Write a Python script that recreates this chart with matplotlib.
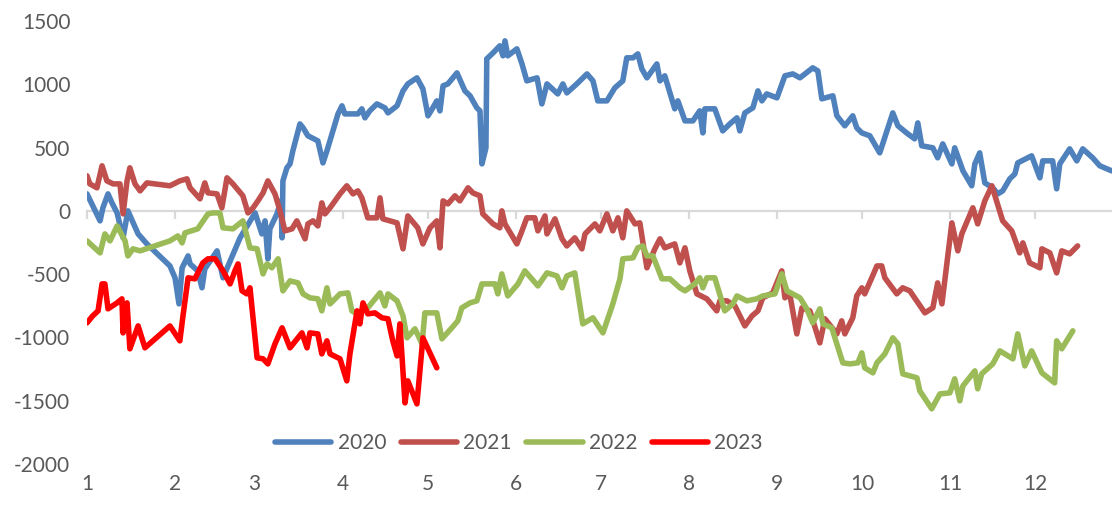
import matplotlib
matplotlib.use("Agg")
import matplotlib.pyplot as plt

# x = day of year (0 = 1 Jan), y = spread value
d2020 = [0, 4.6, 5.6, 7.4, 8.8, 10.6, 12.7, 14.4, 18, 21.1, 29.2, 31, 32.4, 33.5, 35.6, 36.3, 39, 40.5,
         41.5, 45.8, 47.9, 53.9, 59.2, 61.6, 62.7, 63.7, 64.4, 66.9, 68.3, 68.7, 69, 70.4, 71.5, 72.5,
         75, 76.1, 77.8, 81.3, 83.1, 84.5, 86.3, 88.4, 89.8, 90.8, 95.4, 96.8, 97.9, 99.6, 102.1,
         104.9, 106, 109.2, 111.3, 113, 116.2, 118.3, 120.1, 121.8, 123.2, 124.3, 125.4, 127.1,
         130.3, 133.1, 134.9, 137.3, 138.4, 139.1, 140.5, 140.8, 143, 145.4, 146.5, 147.2, 148.2,
         151.4, 153.2, 154.9, 158.5, 160.2, 162, 165.8, 167.6, 169, 172.5, 176.1, 178.2, 179.9,
         183.1, 185.9, 188.7, 190.1, 192.3, 194, 195.4, 197.2, 200.7, 201.8, 203.5, 207, 208.1,
         210.6, 213.4, 215.8, 216.9, 217.6, 221.1, 223.9, 226.4, 228.9, 229.9, 231.7, 234.5, 236.3,
         237.7, 239.4, 243, 245.8, 248.6, 251.1, 255.6, 257.4, 258.8, 262.7, 264.1, 266.9, 269.7,
         271.1, 272.9, 275.7, 279.2, 283.8, 285.6, 289.1, 291.5, 292.6, 294, 297.9, 299.6, 301.4,
         304.6, 305.6, 308.5, 311.6, 312.7, 314.4, 316.2, 319, 320.8, 322.5, 325, 326.8, 327.8,
         332.7, 335.6, 336.6, 340.1, 341.5, 342.6, 346.1, 348.6, 350.7, 354.2, 356.7, 360.9]
v2020 = [134, -79, 24, 134, 63, -16, -213, 0, -182, -261, -435, -529, -735, -450, -356, -419, -474, -608,
         -458, -316, -529, -213, -16, -182, -79, -379, -142, -24, 79, -213, 237, 340, 371, 474,
         687, 656, 593, 553, 379, 474, 608, 766, 830, 766, 766, 806, 735, 790, 845,
         814, 774, 830, 948, 1003, 1051, 964, 751, 814, 869, 790, 988, 1003,
         1090, 948, 909, 814, 790, 371, 498, 1201, 1248, 1304, 1225, 1343, 1225,
         1280, 1161, 1027, 1051, 845, 1003, 924, 1003, 932, 1003, 1082, 1027, 869,
         869, 972, 1027, 1209, 1209, 1240, 1122, 1051, 1161, 1027, 1067, 806, 869,
         711, 711, 790, 616, 806, 806, 632, 687, 735, 632, 774, 814, 948,
         869, 924, 893, 1067, 1082, 1051, 1130, 1106, 885, 909, 751, 672, 751,
         656, 616, 593, 458, 774, 672, 608, 569, 695, 514, 498, 419, 529,
         371, 498, 316, 198, 371, 458, 221, 182, 134, 158, 253, 292, 379,
         435, 261, 395, 395, 174, 371, 490, 395, 490, 419, 356, 316]

d2021 = [0, 1, 3.5, 5.3, 7, 9.2, 11.6, 12.7, 14.1, 15.1, 16.9, 18.7, 21.1, 29.2, 32.7, 35.2, 36.3,
         39.8, 41.5, 42.6, 45.8, 47.5, 49.3, 51.4, 54.9, 56.7, 58.5, 60.2, 62, 63.7, 66.2, 68, 69.7,
         72.2, 73.9, 76.8, 77.8, 79.6, 81.3, 82.7, 83.8, 85.6, 89.1, 91.5, 93.7, 95.4, 96.8, 98.9,
         102.1, 103.2, 104.2, 109.2, 111.3, 113, 116.5, 118.3, 120.8, 123.2, 124.3, 125.4, 127.1,
         129.6, 131.3, 134.2, 135.9, 138.4, 139.4, 143, 145.4, 146.1, 147.2, 151.4, 153.2, 154.9,
         157.7, 158.8, 161.3, 162, 164.8, 167.3, 169, 171.8, 174.3, 175.4, 178.9, 180.6, 183.1,
         185.2, 187, 188.7, 190.1, 193, 194.7, 197.2, 200, 201.8, 203.5, 207, 208.8, 210.6, 212.3,
         214.8, 218.3, 221.8, 222.9, 225.4, 228.2, 231.7, 234.2, 236.3, 238, 241.5, 244.7, 245.8,
         247.5, 250, 251.8, 254.6, 258.1, 259.9, 264.1, 265.8, 266.9, 269.7, 271.1, 272.9, 273.9,
         276.4, 278.2, 279.9, 281, 285.2, 287.3, 289.8, 295.1, 297.9, 299.6, 301.1, 304.6, 306.7,
         308.1, 312, 313.7, 316.2, 318.7, 322.5, 325.7, 328.5, 329.6, 332, 335.6, 336.3, 339.1,
         341.5, 343.3, 346.1, 348.9]
v2021 = [277, 213, 182, 356, 237, 213, 213, -24, 237, 340, 213, 158, 221, 198, 237, 253, 182,
         95, 221, 142, 134, 24, 261, 213, 119, -16, 24, 79, 142, 237, 134, 0, -158,
         -142, -79, -221, -103, -79, -119, 63, -24, 24, 134, 198, 134, 158, 103, -55,
         -55, 103, -63, -95, -300, -40, -134, -261, -134, -79, -292, 79, 55,
         119, 79, 182, 142, 119, -24, -103, -134, 0, -103, -261, -158, -55,
         -55, -158, -40, -182, -63, -221, -277, -213, -300, -182, -103, -158, -24,
         -158, -55, -213, 0, -103, -95, -450, -300, -221, -292, -261, -411, -292, -474,
         -656, -695, -790, -711, -711, -751, -909, -830, -790, -687, -648, -474, -687,
         -656, -972, -766, -790, -1043, -853, -972, -869, -972, -845, -672, -608, -656,
         -529, -435, -435, -529, -656, -608, -632, -806, -766, -569, -735, -95, -316,
         -182, 24, -103, 79, 198, -79, -158, -332, -253, -411, -450, -300, -332,
         -490, -316, -340, -277]

d2022 = [0, 4.6, 6.3, 8.1, 10.6, 13.4, 14.4, 16.2, 18.7, 29.2, 32, 33.5, 34.5, 39, 42.6, 44.4, 46.8,
         47.9, 51.4, 54.9, 57.4, 59.9, 62, 63.4, 65.1, 67.3, 69, 71.5, 74.3, 76.1, 78.5, 81.3, 82.7,
         84.5, 85.6, 89.1, 91.9, 93.3, 95.1, 98.6, 103.2, 104.9, 106, 109.2, 111.3, 112.7, 115.5,
         118, 119, 123.2, 125, 128.5, 130.6, 132, 134.9, 137.3, 139.1, 143.7, 144.7, 146.1, 148.2,
         151.8, 154.2, 158.8, 162, 165.5, 167.3, 169, 171.8, 174.6, 178.2, 181.7, 185.2, 187.7,
         188.7, 192.3, 194, 195.8, 197.2, 199.3, 202.5, 205.3, 208.8, 210.6, 214.1, 215.8, 216.9,
         218.3, 221.1, 224.6, 227.5, 228.9, 232.4, 235.9, 238, 242.3, 244.7, 246.5, 251.1, 253.5,
         255.6, 258.1, 259.2, 262.3, 264.1, 266.2, 268.7, 271.5, 272.9, 273.9, 276.8, 278.2, 281,
         283.8, 285.6, 287.3, 292.3, 293.3, 297.5, 300.4, 303.9, 305.6, 307.4, 308.5, 312.7, 313.7,
         315.1, 319, 321.5, 326.1, 327.8, 330.3, 332.7, 336.3, 340.8, 341.5, 343.3, 347.2]
v2022 = [-237, -332, -182, -237, -119, -237, -356, -300, -316, -237, -198, -253, -174, -142, -24, -16, -16,
         -134, -142, -79, -292, -300, -498, -419, -450, -379, -632, -553, -569, -656, -687, -695, -790,
         -608, -735, -656, -648, -790, -814, -774, -648, -751, -656, -711, -830, -1003, -932,
         -1051, -806, -806, -1011, -924, -869, -766, -727, -711, -577, -577, -656, -498, -672,
         -577, -474, -593, -490, -514, -608, -514, -490, -893, -845, -964, -735, -537,
         -379, -371, -292, -277, -356, -356, -537, -537, -608, -632, -577, -529, -608,
         -529, -529, -790, -735, -672, -711, -695, -672, -656, -498, -632, -687, -774,
         -885, -774, -893, -924, -1051, -1201, -1209, -1201, -1122, -1240, -1280, -1201, -1130,
         -1003, -1051, -1288, -1319, -1422, -1564, -1446, -1438, -1327, -1501, -1383, -1264, -1406,
         -1288, -1209, -1106, -1169, -972, -1225, -1106, -1280, -1359, -1027, -1090, -948]

d2023 = [0, 2, 3.9, 5.3, 6.3, 7.4, 10.6, 12.3, 12.7, 14.1, 15.1, 18, 20.4, 29.2, 32.7, 33.8, 35.6,
         38, 40.8, 42.6, 45.1, 47.9, 50.4, 52.1, 53.2, 54.6, 56.3, 57.4, 59.9, 62, 63.7, 66.2, 68.7,
         71.5, 75.7, 77.5, 78.5, 81.3, 82.7, 84.5, 85.6, 89.1, 91.5, 92.6, 95.1, 96.1, 97.2, 98.9,
         101.4, 103.9, 106, 107.7, 109.2, 110.2, 112, 113, 116.2, 118.3, 123.2]
v2023 = [-885, -830, -790, -577, -577, -774, -727, -695, -964, -727, -1090, -909, -1082, -909, -1027, -830, -529,
         -537, -411, -379, -379, -474, -577, -474, -419, -632, -656, -608, -1161, -1169, -1209, -1051, -924,
         -1082, -964, -1082, -964, -972, -1130, -1027, -1130, -1169, -1343, -1130, -790, -893, -727, -814,
         -806, -845, -853, -1027, -1146, -893, -1517, -1343, -1525, -1003, -1240]

month_starts = [0, 31, 59, 90, 120, 151, 181, 212, 243, 273, 304, 334]
month_labels = [str(m) for m in range(1, 13)]
yticks = [-2000, -1500, -1000, -500, 0, 500, 1000, 1500]

series = [
    ("2020", d2020, v2020, "#4f81bd"),
    ("2021", d2021, v2021, "#c0504d"),
    ("2022", d2022, v2022, "#9bbb59"),
    ("2023", d2023, v2023, "#ff0000"),
]

plt.rcParams['font.family'] = ['Lato', 'DejaVu Sans']
text_color = "#595959"
grid_color = "#d9d9d9"

fig = plt.figure(figsize=(11.12, 5.05), dpi=100)
ax = fig.add_axes([87 / 1112, 41 / 505, 1025 / 1112, 443 / 505])

for name, xs, ys, col in series:
    ax.plot(xs, ys, color=col, lw=4.0, label=name, solid_joinstyle='round', solid_capstyle='round')

ax.set_xlim(0, 361)
ax.set_ylim(-2000, 1500)

for side in ['top', 'right', 'left']:
    ax.spines[side].set_visible(False)
ax.spines['bottom'].set_position(('data', 0))
ax.spines['bottom'].set_color(grid_color)
ax.spines['bottom'].set_linewidth(1.6)
ax.spines['bottom'].set_zorder(0)

ax.set_xticks(month_starts)
ax.tick_params(axis='x', direction='out', length=6, width=1.6, color=grid_color, labelbottom=False)
ax.set_yticks(yticks)
ax.set_yticklabels([str(t) for t in yticks])
ax.tick_params(axis='y', length=0, pad=12, labelsize=15, labelcolor=text_color)

# month labels sit below the plot area, away from the zero line
sec = ax.secondary_xaxis('bottom')
sec.set_xticks(month_starts)
sec.set_xticklabels(month_labels)
sec.tick_params(length=0, pad=7, labelsize=15, labelcolor=text_color)
sec.spines['bottom'].set_visible(False)

leg = ax.legend(loc='center', bbox_to_anchor=(0.4215, 0.047), ncol=4, frameon=False,
                fontsize=15, handlelength=2.7, handletextpad=0.3, columnspacing=0.7,
                labelcolor=text_color)

fig.savefig("out.png", dpi=100)
